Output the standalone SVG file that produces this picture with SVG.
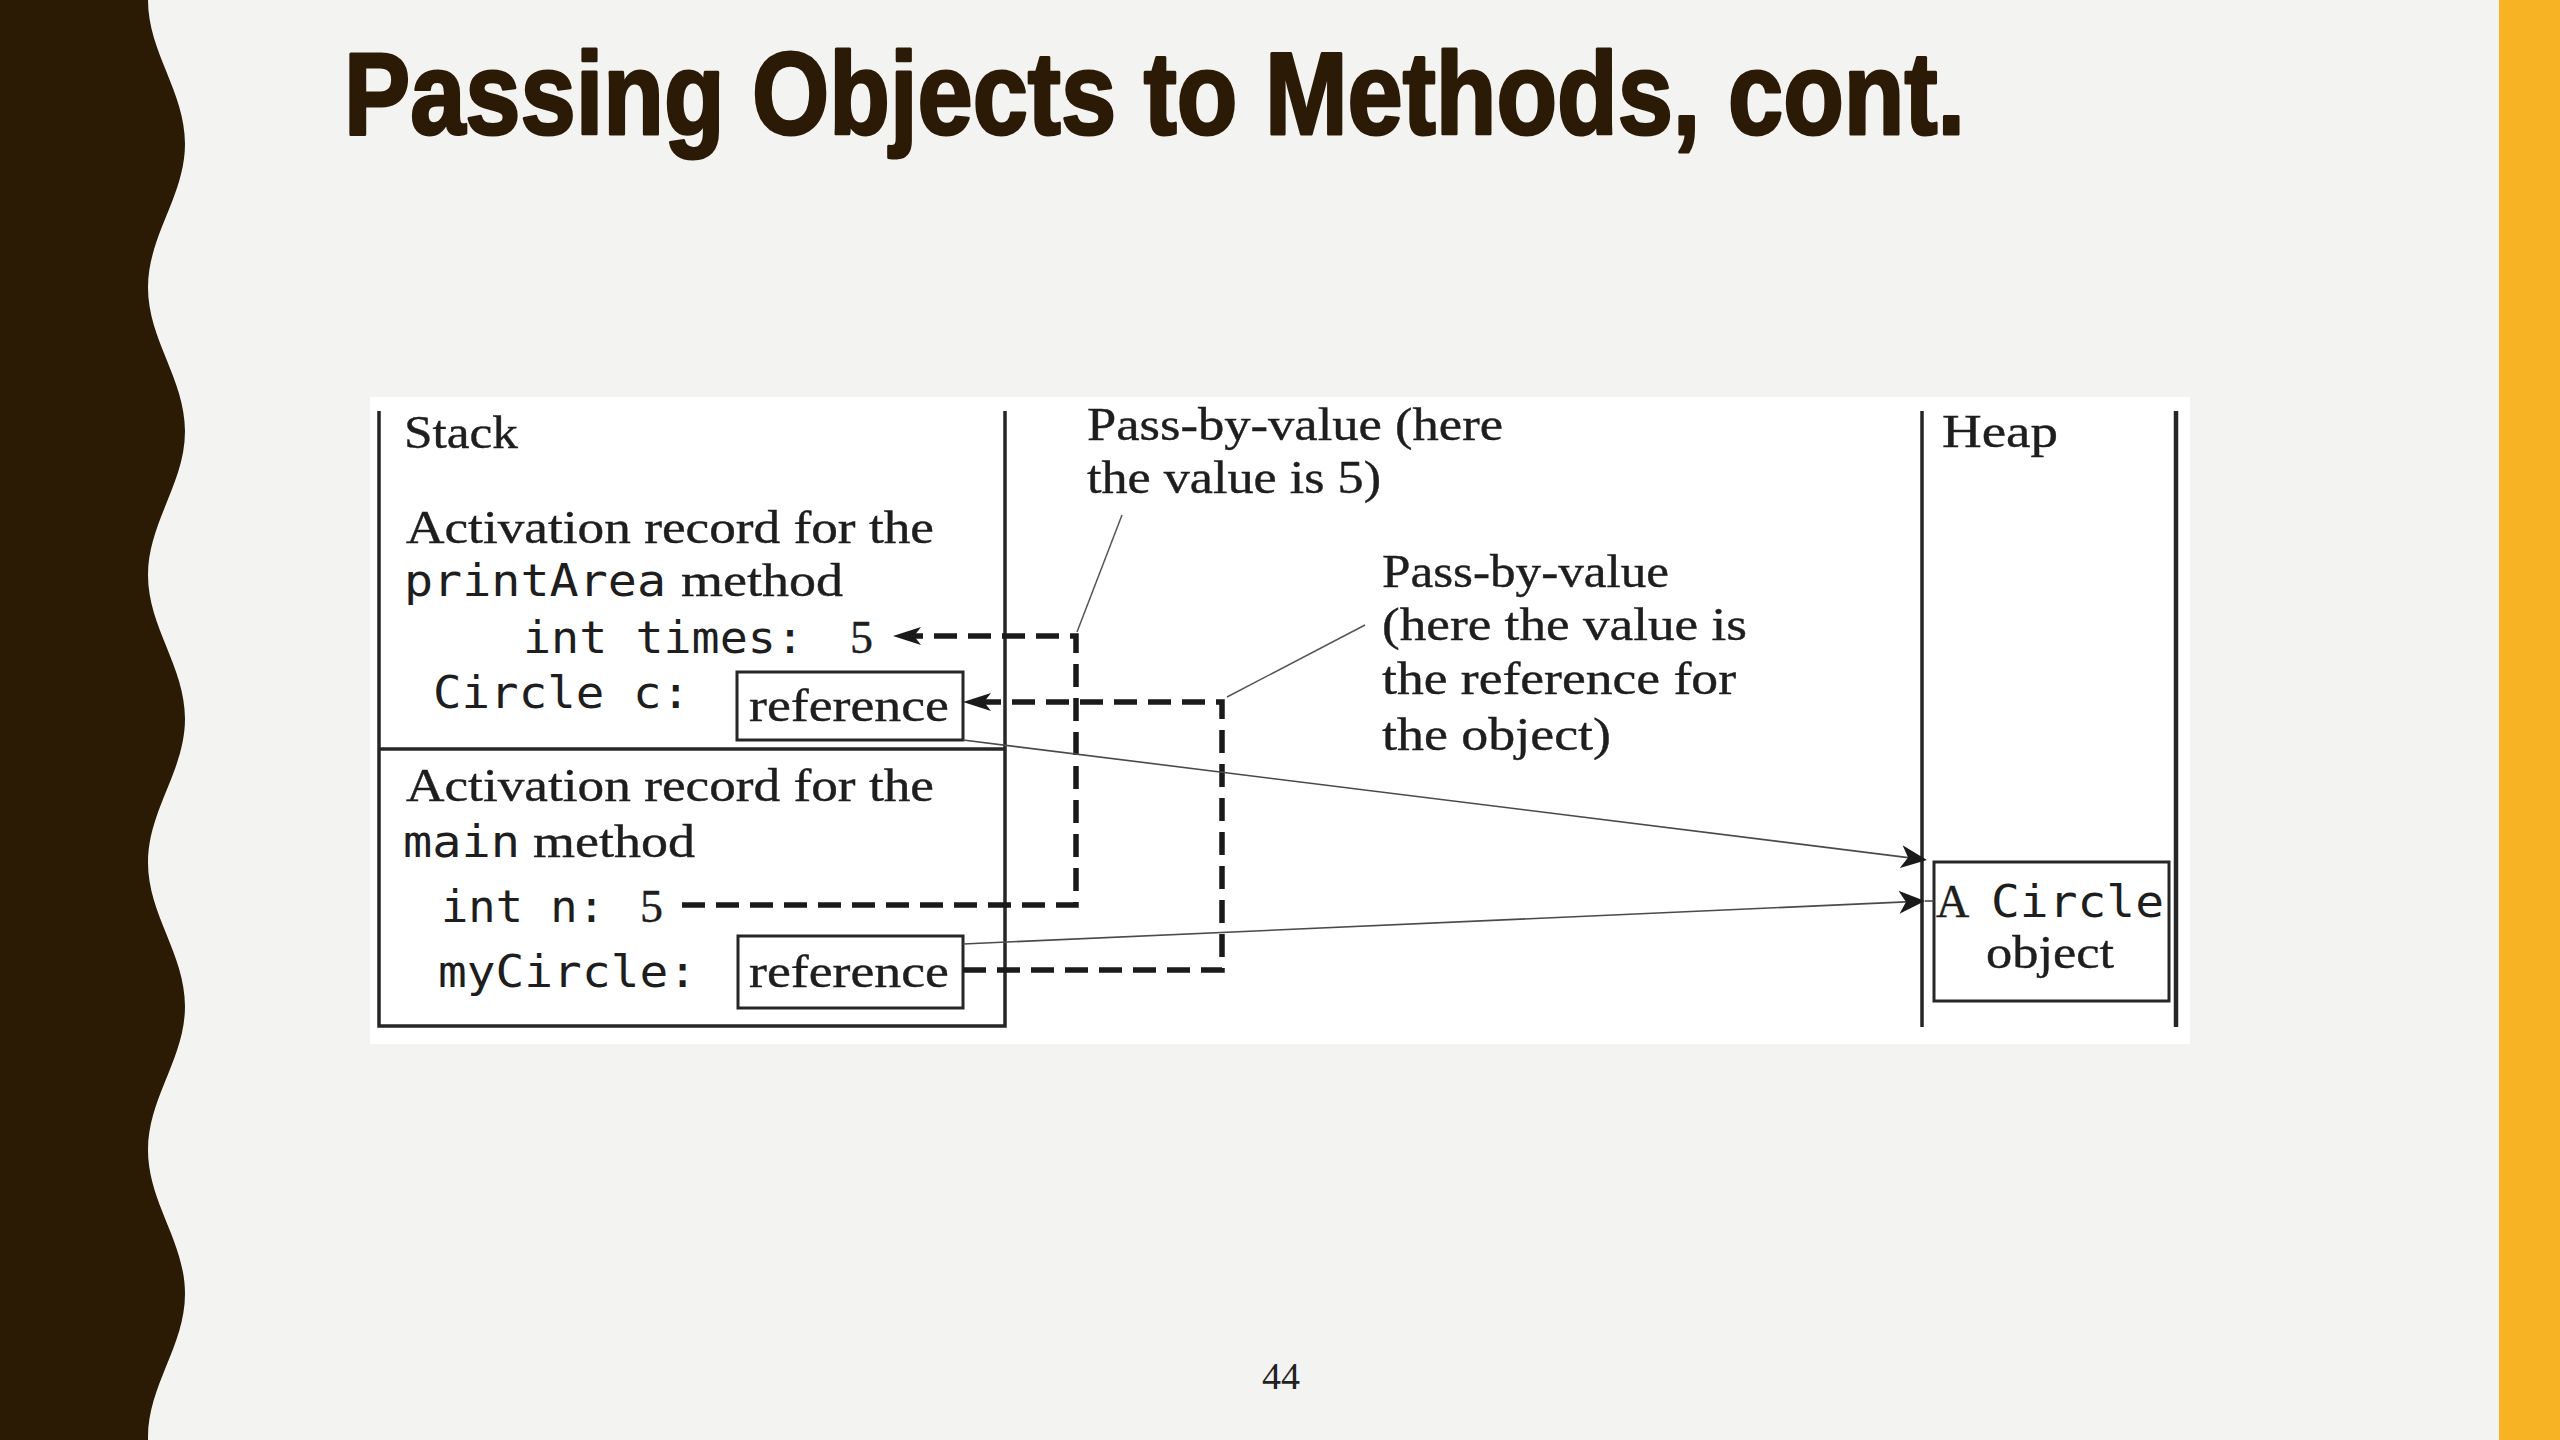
<svg xmlns="http://www.w3.org/2000/svg" width="2560" height="1440" viewBox="0 0 2560 1440">
  <defs>
    <style>
      .s { font-family: "Liberation Serif", "Times New Roman", serif; font-size: 46px; fill: #1e1e1e; stroke: #1e1e1e; stroke-width: 0.4; }
      .m { font-family: "DejaVu Sans Mono", "Liberation Mono", monospace; font-size: 44px; fill: #1e1e1e; }
      .frame { fill: none; stroke: #262626; stroke-width: 3.5; }
      .box { fill: #ffffff; stroke: #262626; stroke-width: 3; }
      .dash { fill: none; stroke: #1a1a1a; stroke-width: 5.5; stroke-dasharray: 23 11; }
      .thin { fill: none; stroke: #4a4a4a; stroke-width: 1.6; }
      .lead { fill: none; stroke: #555555; stroke-width: 1.5; }
    </style>
    <marker id="ad" viewBox="0 -10 28 20" refX="7" refY="0" markerWidth="28" markerHeight="20" markerUnits="userSpaceOnUse" orient="auto">
      <path d="M0,-9 L28,0 L0,9 L7,0 Z" fill="#1a1a1a"/>
    </marker>
    <marker id="at" viewBox="0 -12 26 24" refX="7" refY="0" markerWidth="26" markerHeight="24" markerUnits="userSpaceOnUse" orient="auto">
      <path d="M0,-11.5 L26,0 L0,11.5 L7,0 Z" fill="#1a1a1a"/>
    </marker>
  </defs>

  <g id="background">
    <rect x="0" y="0" width="2560" height="1440" fill="#f3f3f1"/>
    <path d="M0,0 H148 c0,52.24 37,91.51 37,143.75 s-37,91.51 -37,143.75 s37,91.51 37,143.75 s-37,91.51 -37,143.75 s37,91.51 37,143.75 s-37,91.51 -37,143.75 s37,91.51 37,143.75 s-37,91.51 -37,143.75 s37,91.51 37,143.75 s-37,91.51 -37,143.75 s37,91.51 37,143.75 L0,1581.25 Z" fill="#2b1b04"/>
    <rect x="2499" y="0" width="61" height="1440" fill="#f8b324"/>
  </g>

  <g id="title">
    <text x="344" y="134" font-family="Liberation Sans, Arial, sans-serif" font-weight="bold" font-size="116" fill="#2a1a06" stroke="#2a1a06" stroke-width="3" stroke-linejoin="round" textLength="1621" lengthAdjust="spacingAndGlyphs">Passing Objects to Methods, cont.</text>
  </g>

  <g id="diagram-panel">
    <rect x="370" y="397" width="1820" height="647" fill="#ffffff"/>
  </g>

  <g id="stack">
    <path class="frame" d="M379,411 V1026 H1005 V411"/>
    <text class="s" x="404" y="448" textLength="114" lengthAdjust="spacingAndGlyphs">Stack</text>
  </g>

  <g id="printArea-record">
    <text class="s" x="406" y="543" textLength="528" lengthAdjust="spacingAndGlyphs">Activation record for the</text>
    <text class="m" x="404" y="596" textLength="262" lengthAdjust="spacingAndGlyphs">printArea</text>
    <text class="s" x="681" y="596" textLength="162" lengthAdjust="spacingAndGlyphs">method</text>
    <text class="m" x="523" y="653" textLength="281" lengthAdjust="spacingAndGlyphs">int times:</text>
    <text class="s" x="850" y="653">5</text>
    <text class="m" x="433" y="708" textLength="257" lengthAdjust="spacingAndGlyphs">Circle c:</text>
  </g>

  <g id="ref-c">
    <rect class="box" x="737" y="672" width="226" height="68"/>
    <text class="s" x="749" y="721" textLength="200" lengthAdjust="spacingAndGlyphs">reference</text>
  </g>

  <g id="main-record">
    <path class="frame" d="M379,749 H1005"/>
    <text class="s" x="406" y="801" textLength="528" lengthAdjust="spacingAndGlyphs">Activation record for the</text>
    <text class="m" x="403" y="857" textLength="117" lengthAdjust="spacingAndGlyphs">main</text>
    <text class="s" x="533" y="857" textLength="162" lengthAdjust="spacingAndGlyphs">method</text>
    <text class="m" x="441" y="922" textLength="164" lengthAdjust="spacingAndGlyphs">int n:</text>
    <text class="s" x="640" y="922">5</text>
    <text class="m" x="438" y="987" textLength="259" lengthAdjust="spacingAndGlyphs">myCircle:</text>
  </g>

  <g id="ref-myCircle">
    <rect class="box" x="738" y="936" width="225" height="72"/>
    <text class="s" x="749" y="987" textLength="200" lengthAdjust="spacingAndGlyphs">reference</text>
  </g>

  <g id="heap">
    <path d="M1922,411 V1027" stroke="#262626" stroke-width="3.5" fill="none"/>
    <path d="M2176,411 V1027" stroke="#262626" stroke-width="4.5" fill="none"/>
    <text class="s" x="1942" y="447" textLength="116" lengthAdjust="spacingAndGlyphs">Heap</text>
  </g>

  <g id="circle-object">
    <rect class="box" x="1934" y="862" width="235" height="139"/>
    <text class="s" x="1936" y="917" font-size="50">A</text>
    <text class="m" x="1991" y="917" font-size="47" textLength="173" lengthAdjust="spacingAndGlyphs">Circle</text>
    <text class="s" x="1986" y="968" textLength="128" lengthAdjust="spacingAndGlyphs">object</text>
  </g>

  <g id="callout-int">
    <text class="s" x="1087" y="440" textLength="416" lengthAdjust="spacingAndGlyphs">Pass-by-value (here</text>
    <text class="s" x="1087" y="493" textLength="294" lengthAdjust="spacingAndGlyphs">the value is 5)</text>
  </g>

  <g id="callout-ref">
    <text class="s" x="1382" y="587" textLength="287" lengthAdjust="spacingAndGlyphs">Pass-by-value</text>
    <text class="s" x="1382" y="640" textLength="365" lengthAdjust="spacingAndGlyphs">(here the value is</text>
    <text class="s" x="1382" y="694" textLength="354" lengthAdjust="spacingAndGlyphs">the reference for</text>
    <text class="s" x="1382" y="750" textLength="229" lengthAdjust="spacingAndGlyphs">the object)</text>
  </g>

  <g id="connectors">
    <path class="dash" d="M682,905 H1076 V636 H914" marker-end="url(#ad)"/>
    <path class="dash" d="M963,970 H1222 V702 H984" marker-end="url(#ad)"/>
    <path class="thin" d="M963,740 L1908.1,857.6" marker-end="url(#at)"/>
    <path class="thin" d="M963,944 L1906,901.9" marker-end="url(#at)"/>
    <path class="thin" d="M1925,901 H1934"/>
    <path class="lead" d="M1122,515 L1077,632"/>
    <path class="lead" d="M1227,697 L1365,625"/>
  </g>

  <g id="page-number">
    <text x="1262" y="1389" font-family="Liberation Serif, Times New Roman, serif" font-size="38" fill="#222222">44</text>
  </g>
</svg>
